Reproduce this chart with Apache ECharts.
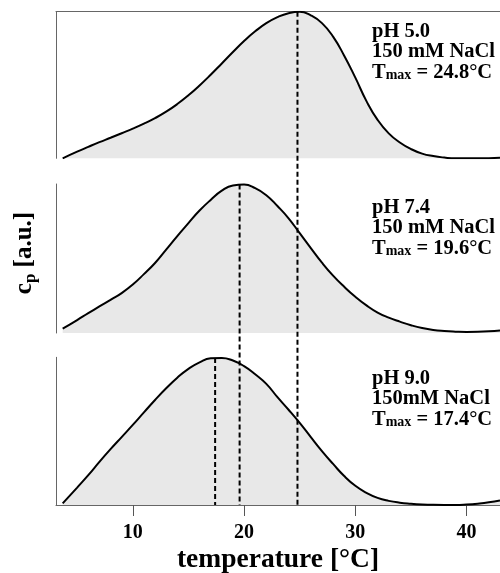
<!DOCTYPE html>
<html>
<head>
<meta charset="utf-8">
<script src="https://cdn.jsdelivr.net/npm/echarts@6/dist/echarts.min.js"></script>
<style>html,body{margin:0;padding:0;background:#fff}#c{width:500px;height:573px}</style>
</head>
<body>
<div id="c"></div>
<script>
// temperature [°C]
const temps = [3.7,5,6,7,8,9,10,11,12,13,14,15,16,17,18,19,20,21,22,23,24,25,26,27,28,29,30,31,32,33,34,35,36,37,38,39,40,41,42,43];
// normalised cp [a.u.] for each condition
const cpPH50 = [0.0,0.045,0.078,0.11,0.14,0.171,0.202,0.236,0.274,0.318,0.37,0.43,0.497,0.57,0.647,0.725,0.80,0.866,0.922,0.963,0.99,1.0,0.975,0.922,0.83,0.70,0.55,0.39,0.262,0.17,0.108,0.063,0.032,0.015,0.005,0.0,0.0,0.0,0.0,0.003];
const cpPH74 = [0.029,0.087,0.133,0.178,0.222,0.268,0.325,0.395,0.47,0.56,0.65,0.738,0.822,0.893,0.955,0.99,0.996,0.972,0.925,0.852,0.77,0.67,0.57,0.472,0.385,0.31,0.243,0.185,0.137,0.103,0.076,0.052,0.033,0.02,0.013,0.009,0.007,0.008,0.011,0.016];
const cpPH90 = [0.011,0.118,0.202,0.292,0.378,0.46,0.542,0.627,0.711,0.79,0.862,0.922,0.966,0.993,0.996,0.978,0.94,0.885,0.82,0.73,0.645,0.556,0.46,0.365,0.278,0.196,0.13,0.082,0.048,0.028,0.016,0.009,0.004,0.001,0.0,0.0,0.003,0.009,0.018,0.031];
const tmaxValues = [24.8, 19.6, 17.4];
const phLabels = ['pH 5.0', 'pH 7.4', 'pH 9.0'];
const saltLabels = ['150 mM NaCl', '150 mM NaCl', '150mM NaCl'];
const tickValues = [10, 20, 30, 40];
const xTitle = 'temperature [°C]';

const curves = [cpPH50, cpPH74, cpPH90];
const FONT = "'Liberation Serif','DejaVu Serif',serif";
const panels = [
  {top: 11.7, height: 146.6, textY: 21},
  {top: 184, height: 149, textY: 197},
  {top: 357.3, height: 147.7, textY: 368}
];
const XMIN = 3.1, XMAX = 43;

const chart = echarts.init(document.getElementById('c'), null, {renderer: 'canvas'});

const grids = [], xAxes = [], yAxes = [], series = [];
panels.forEach((p, i) => {
  grids.push({left: 56, right: 0, top: p.top, height: p.height, containLabel: false, outerBoundsMode: 'none'});
  const isBottom = i === 2, isTop = i === 0;
  xAxes.push({
    type: 'value', gridIndex: i, min: XMIN, max: XMAX,
    position: isTop ? 'top' : 'bottom',
    show: isTop || isBottom,
    axisLine: {show: isTop || isBottom, onZero: false, lineStyle: {color: '#666', width: 1}},
    axisTick: {show: isBottom, length: 11, customValues: tickValues, lineStyle: {color: '#555', width: 1}},
    axisLabel: {show: isBottom, customValues: tickValues, margin: 18, color: '#000', fontFamily: FONT, fontWeight: 'bold', fontSize: 20},
    splitLine: {show: false},
    name: isBottom ? xTitle : '',
    nameLocation: 'middle', nameGap: 41,
    nameTextStyle: {color: '#000', fontFamily: FONT, fontWeight: 'bold', fontSize: 27.5}
  });
  yAxes.push({
    type: 'value', gridIndex: i, min: 0, max: 1,
    axisLine: {show: true, onZero: false, lineStyle: {color: '#666', width: 1}},
    axisTick: {show: false}, axisLabel: {show: false}, splitLine: {show: false}
  });
  series.push({
    type: 'line', xAxisIndex: i, yAxisIndex: i,
    data: temps.map((t, j) => [t, curves[i][j]]),
    smooth: 0.5, symbol: 'none', showSymbol: false,
    lineStyle: {color: '#000', width: 2},
    areaStyle: {color: '#e8e8e8', opacity: 1},
    silent: true, animation: false
  });
});

chart.setOption({
  animation: false,
  grid: grids, xAxis: xAxes, yAxis: yAxes, series: series
});

const graphics = [];
// dashed Tmax lines from each curve's peak down to the bottom x-axis
tmaxValues.forEach((tm, i) => {
  const peak = Math.max.apply(null, curves[i]);
  const p1 = chart.convertToPixel({gridIndex: i}, [tm, peak]);
  const p2 = chart.convertToPixel({gridIndex: 2}, [tm, 0]);
  graphics.push({
    type: 'line', z: 100, silent: true,
    shape: {x1: p1[0], y1: p1[1], x2: p2[0], y2: p2[1]},
    style: {stroke: '#000', lineWidth: 2, lineDash: [5, 3]}
  });
  graphics.push({
    type: 'text', z: 100, x: 372, y: panels[i].textY, silent: true,
    style: {
      text: '{b|' + phLabels[i] + '}\n{b|' + saltLabels[i] + '}\n{b|T}{s|max}{b| = ' + tm.toFixed(1) + '°C}',
      rich: {
        b: {fontFamily: FONT, fontWeight: 'bold', fontSize: 20.5, lineHeight: 20.5, fill: '#000'},
        s: {fontFamily: FONT, fontWeight: 'bold', fontSize: 14, lineHeight: 9, verticalAlign: 'bottom', fill: '#000'}
      },
      verticalAlign: 'top', align: 'left'
    }
  });
});
// y-axis title
graphics.push({
  type: 'text', x: 25, y: 253, rotation: Math.PI / 2, silent: true,
  style: {
    text: '{b|c}{s|p}{b| [a.u.]}',
    rich: {
      b: {fontFamily: FONT, fontWeight: 'bold', fontSize: 25, lineHeight: 28, fill: '#000'},
      s: {fontFamily: FONT, fontWeight: 'bold', fontSize: 17, lineHeight: 12, verticalAlign: 'bottom', fill: '#000'}
    },
    align: 'center', verticalAlign: 'middle'
  }
});
chart.setOption({graphic: graphics});
</script>
</body>
</html>
